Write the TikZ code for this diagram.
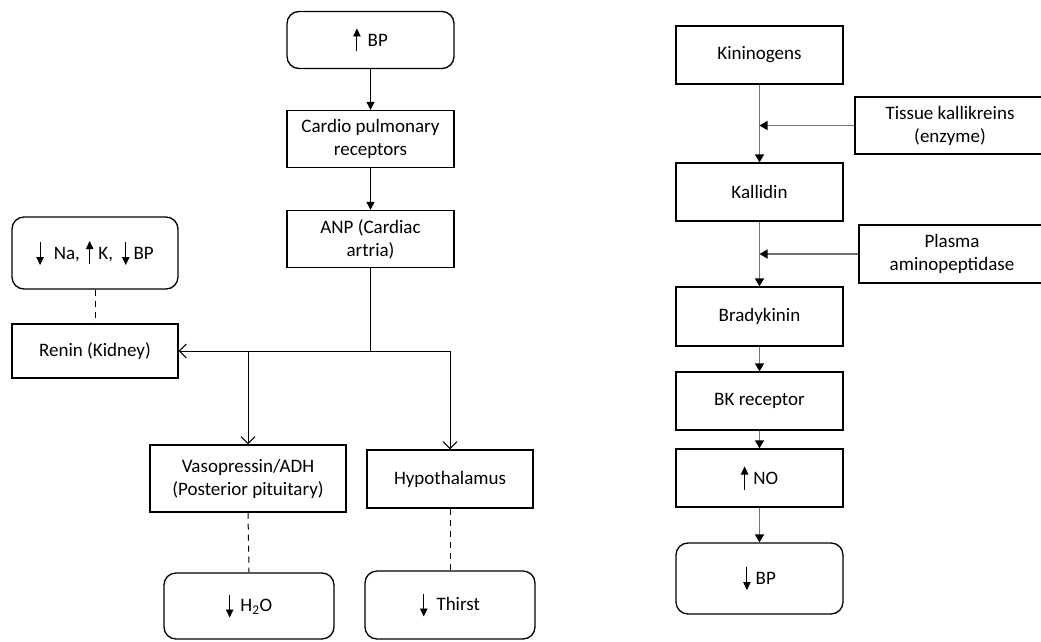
\documentclass[tikz,border=0pt]{standalone}
\usepackage{fontspec}
\setmainfont{Carlito}
\usetikzlibrary{arrows.meta}
\newcommand{\uparr}{\tikz[baseline=0pt,x=1pt,y=1pt]\draw[line width=0.9pt,-{Triangle[length=8pt,width=7.5pt]}] (0,-5) -- (0,18);}
\newcommand{\dnarr}{\tikz[baseline=0pt,x=1pt,y=1pt]\draw[line width=0.9pt,-{Triangle[length=8pt,width=7.5pt]}] (0,17) -- (0,-6);}
\begin{document}
\begin{tikzpicture}[x=1pt,y=-1pt,
  box/.style={draw,line width=1.3pt,align=center,inner sep=0pt,font=\fontsize{19}{23}\selectfont},
  rbox/.style={box,rounded corners=12pt},
  link/.style={line width=0.9pt,-{Triangle[length=8pt,width=8pt]}},
  glink/.style={draw=black!55,line width=1.3pt,-{Triangle[length=8pt,width=9pt,color=black]}},
  olink/.style={line width=1pt,-{Straight Barb[length=7pt,width=14pt,line width=1pt]}},
  dlink/.style={line width=1pt,dash pattern=on 6pt off 5pt}]
\useasboundingbox (0,0) rectangle (1041,642);
% left part
\node[rbox,minimum width=167pt,minimum height=57pt] (bp1) at (370.5,40) {\uparr\hspace{7pt}BP};
\node[box,minimum width=167pt,minimum height=57pt] (cpr) at (370.5,139) {Cardio pulmonary\\receptors};
\node[box,minimum width=167pt,minimum height=57pt] (anp) at (370.5,239) {ANP (Cardiac\\artria)};
\node[rbox,minimum width=166pt,minimum height=72pt] (na) at (95,253) {\dnarr\hspace{10pt}Na,\hspace{6pt}\uparr\hspace{5pt}K,\hspace{9pt}\dnarr\hspace{4pt}BP};
\node[box,minimum width=166pt,minimum height=54pt] (renin) at (95,351) {Renin (Kidney)};
\node[box,minimum width=196pt,minimum height=67pt] (vaso) at (248,478.5) {Vasopressin/ADH\\(Posterior pituitary)};
\node[box,minimum width=166pt,minimum height=58pt] (hypo) at (450,479) {Hypothalamus};
\node[rbox,minimum width=170pt,minimum height=66pt] (h2o) at (249,606) {\dnarr\hspace{7pt}$\mathrm{H_2O}$};
\node[rbox,minimum width=170pt,minimum height=68pt] (thirst) at (450,605) {\dnarr\hspace{9pt}Thirst};
\coordinate (j) at (anp.south |- renin.east);
\coordinate (jv) at (vaso.north |- renin.east);
\coordinate (jh) at (hypo.north |- renin.east);
\draw[link] (bp1) -- (cpr);
\draw[link] (cpr) -- (anp);
\draw[line width=0.9pt] (anp.south) -- (j);
\draw[olink] (j) -- (renin.east);
\draw[line width=1pt] (j) -- (jh);
\draw[olink] (jh) -- (hypo.north);
\draw[olink] (jv) -- (vaso.north);
\draw[dlink] (na.south) -- (renin.north);
\draw[dlink] (vaso.south) -- (h2o.north);
\draw[dlink] (hypo.south) -- (thirst.north);
% right part
\node[box,minimum width=167pt,minimum height=58pt] (kin) at (759.5,55) {Kininogens};
\node[box,minimum width=190pt,minimum height=57pt] (tk) at (950,125.5) {Tissue kallikreins\\(enzyme)};
\node[box,minimum width=167pt,minimum height=58pt] (kal) at (759.5,192) {Kallidin};
\node[box,minimum width=186pt,minimum height=58pt] (pa) at (952,254) {Plasma\\aminopeptidase};
\node[box,minimum width=167pt,minimum height=59pt] (bra) at (759.5,316.5) {Bradykinin};
\node[box,minimum width=167pt,minimum height=58pt] (bkr) at (759.5,401) {BK receptor};
\node[box,minimum width=167pt,minimum height=58pt] (no) at (759.5,478) {\uparr\hspace{5pt}NO};
\node[rbox,minimum width=167pt,minimum height=71pt] (bp2) at (759.5,578.5) {\dnarr\hspace{5pt}BP};
\coordinate (m1) at (kin.south |- tk.west);
\coordinate (m2) at (kin.south |- pa.west);
\draw[glink] (kin) -- (kal);
\draw[glink] (tk.west) -- (m1);
\draw[glink] (kal) -- (bra);
\draw[glink] (pa.west) -- (m2);
\draw[glink] (bra) -- (bkr);
\draw[glink] (bkr) -- (no);
\draw[glink] (no) -- (bp2);
\end{tikzpicture}
\end{document}
